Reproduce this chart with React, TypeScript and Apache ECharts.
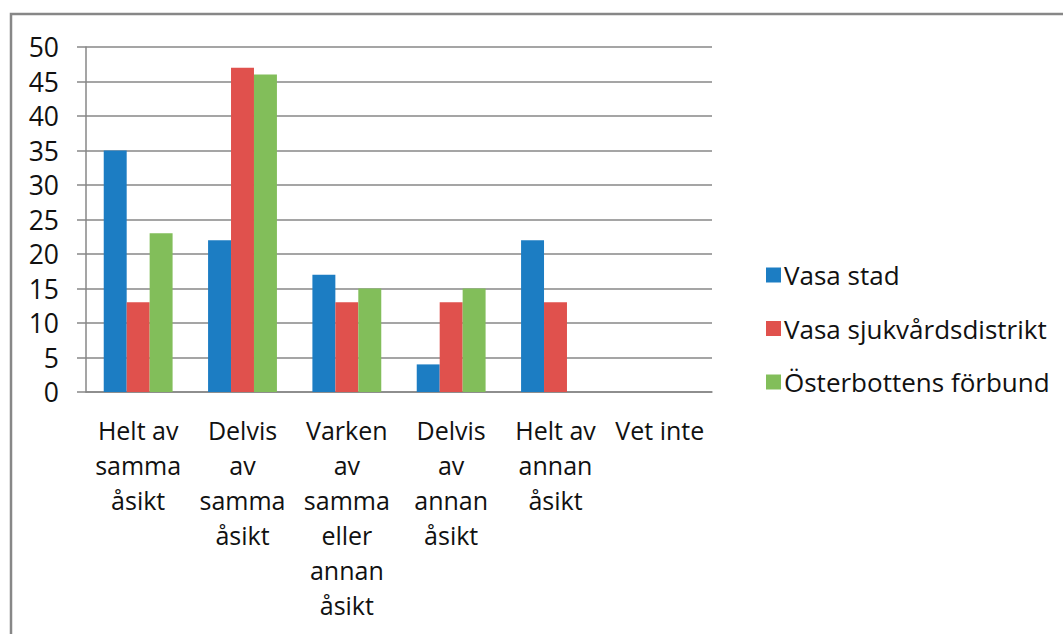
import React, { useEffect, useRef } from "react";
import * as echarts from "echarts";

const categories = [
  "Helt av\nsamma\nåsikt",
  "Delvis\nav\nsamma\nåsikt",
  "Varken\nav\nsamma\neller\nannan\nåsikt",
  "Delvis\nav\nannan\nåsikt",
  "Helt av\nannan\nåsikt",
  "Vet inte",
];
const seriesNames = ["Vasa stad", "Vasa sjukvårdsdistrikt", "Österbottens förbund"];
const vasaStad = [35, 22, 17, 4, 22, 0];
const vasaSjukvard = [13, 47, 13, 13, 13, 0];
const osterbotten = [23, 46, 15, 15, 0, 0];
const colors = ["#1C7DC3", "#E0514D", "#82BE5A"];

const FONT = "'Open Sans', Lato, sans-serif";

export default function App() {
  const ref = useRef<HTMLDivElement>(null);
  useEffect(() => {
    if (!ref.current) return;
    const chart = echarts.init(ref.current, undefined, { renderer: "svg" });
    const values = [vasaStad, vasaSjukvard, osterbotten];
    chart.setOption({
      animation: false,
      color: colors,
      textStyle: { fontFamily: FONT },
      graphic: [
        {
          type: "rect",
          shape: { x: 11, y: 14, width: 1100, height: 700 },
          style: { fill: "none", stroke: "#878787", lineWidth: 2.5 },
          silent: true,
        },
      ],
      grid: { left: 86, right: 351, top: 47, bottom: 242 },
      legend: {
        orient: "vertical",
        left: 761,
        top: 257,
        itemWidth: 15,
        itemHeight: 15,
        itemGap: 27.5,
        icon: "rect",
        textStyle: { fontSize: 26, color: "#111", fontFamily: FONT, padding: [0, 0, 0, -2] },
        data: seriesNames,
      },
      xAxis: {
        type: "category",
        data: categories,
        axisLine: { lineStyle: { color: "#878787", width: 1.5 } },
        axisTick: { length: 10, lineStyle: { color: "#878787", width: 1.5 } },
        axisLabel: {
          color: "#111",
          fontSize: 25,
          lineHeight: 35,
          margin: 20,
          interval: 0,
          fontFamily: FONT,
        },
      },
      yAxis: {
        type: "value",
        min: 0,
        max: 50,
        interval: 5,
        axisLine: { show: true, lineStyle: { color: "#878787", width: 1.5 } },
        axisTick: { show: true, length: 9, lineStyle: { color: "#878787", width: 1.5 } },
        splitLine: { lineStyle: { color: "#878787", width: 1.5 } },
        axisLabel: { color: "#111", fontSize: 26.5, margin: 27, fontFamily: FONT },
      },
      series: seriesNames.map((name, i) => ({
        name,
        type: "bar",
        data: values[i],
        barGap: "0%",
        barCategoryGap: "34%",
      })),
    });
    return () => chart.dispose();
  }, []);
  return (
    <div
      ref={ref}
      style={{ position: "fixed", left: 0, top: 0, width: 1063, height: 634, background: "#fff" }}
    />
  );
}
